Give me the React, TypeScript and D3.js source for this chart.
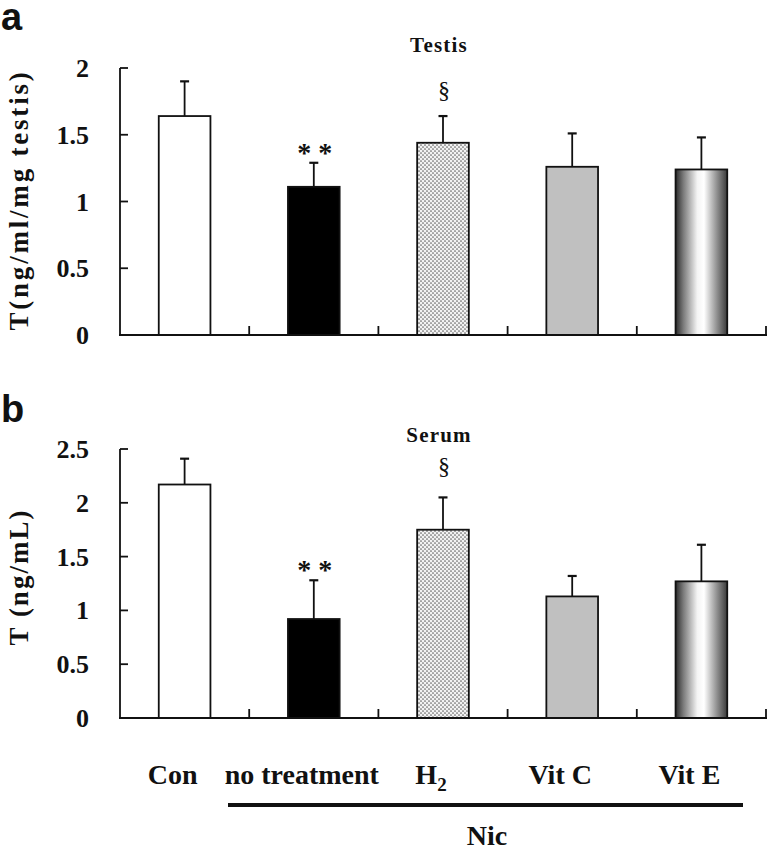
import * as React from 'react';
import { scaleBand, scaleLinear, range } from 'd3';

const categories = ['Con', 'no treatment', 'H2', 'Vit C', 'Vit E'];
const testisMean = [1.64, 1.11, 1.44, 1.26, 1.24];
const testisErr = [0.26, 0.18, 0.2, 0.25, 0.24];
const serumMean = [2.17, 0.92, 1.75, 1.13, 1.27];
const serumErr = [0.24, 0.36, 0.3, 0.19, 0.34];
const testisTicks = [0, 0.5, 1, 1.5, 2];
const serumTicks = [0, 0.5, 1, 1.5, 2, 2.5];
// significance marks above bars
const testisMarks = ['', '* *', '§', '', ''];
const serumMarks = ['', '* *', '§', '', ''];

const W = 767;
const H = 851;
const fills = ['#ffffff', '#000000', 'url(#dots)', '#c0c0c0', 'url(#cyl)'];
const serif = '"Liberation Serif", "Times New Roman", serif';
const sans = '"Liberation Sans", Arial, sans-serif';

const x = scaleBand<string>().domain(categories).range([120, 766]).paddingInner(0).paddingOuter(0);
const barW = x.bandwidth() * 0.4;

interface PanelProps {
  means: number[];
  errs: number[];
  ticks: number[];
  yMax: number;
  y0: number;
  yTop: number;
  marks: string[];
  markY: number[];
  title: string;
  titleY: number;
  yLabel: string;
  yLabelX: number;
  yLabelY: number;
  yLabelSpacing: number;
}

function Panel(p: PanelProps) {
  const y = scaleLinear().domain([0, p.yMax]).range([p.y0, p.yTop]);
  return (
    <g>
      {/* bars */}
      {categories.map((c, i) => {
        const cx = x(c)! + x.bandwidth() / 2;
        return (
          <g key={c}>
            <line x1={cx} x2={cx} y1={y(p.means[i])} y2={y(p.means[i] + p.errs[i])} stroke="#111" strokeWidth={1.8} />
            <line x1={cx - 4.5} x2={cx + 4.5} y1={y(p.means[i] + p.errs[i])} y2={y(p.means[i] + p.errs[i])} stroke="#111" strokeWidth={2.2} />
            <rect x={cx - barW / 2} y={y(p.means[i])} width={barW} height={p.y0 - y(p.means[i])}
              fill={fills[i]} stroke="#111" strokeWidth={1.8} />
            {p.marks[i] && (
              <text x={cx + 1} y={p.markY[i]} textAnchor="middle" fontFamily={serif}
                fontWeight={p.marks[i] === '§' ? 'normal' : 'bold'}
                fontSize={p.marks[i] === '§' ? 24 : 28} fill="#111">{p.marks[i]}</text>
            )}
          </g>
        );
      })}
      {/* y axis */}
      <line x1={120} x2={120} y1={p.yTop} y2={p.y0} stroke="#111" strokeWidth={1.8} />
      {p.ticks.map(t => (
        <g key={t}>
          <line x1={120} x2={128} y1={y(t)} y2={y(t)} stroke="#111" strokeWidth={1.8} />
          <text x={89} y={y(t) + 9} textAnchor="end" fontFamily={serif} fontWeight="bold" fontSize={26} fill="#111">{t}</text>
        </g>
      ))}
      {/* x axis */}
      <line x1={119} x2={767} y1={p.y0} y2={p.y0} stroke="#111" strokeWidth={2} />
      {range(1, categories.length + 1).map(k => {
        const bx = 120 + k * x.bandwidth();
        return <line key={k} x1={bx} x2={bx} y1={p.y0} y2={p.y0 - 9} stroke="#111" strokeWidth={1.8} />;
      })}
      <text x={439} y={p.titleY} textAnchor="middle" fontFamily={serif} fontWeight="bold" fontSize={21} letterSpacing={1.2} fill="#111">{p.title}</text>
      <text transform={`translate(${p.yLabelX},${p.yLabelY}) rotate(-90)`} textAnchor="middle" fontFamily={serif}
        fontWeight="bold" fontSize={27} letterSpacing={p.yLabelSpacing} fill="#111">{p.yLabel}</text>
    </g>
  );
}

export default function App() {
  return (
    <svg width={W} height={H} viewBox={`0 0 ${W} ${H}`} style={{ position: 'absolute', left: 0, top: 0, background: '#fff' }}>
      <defs>
        <pattern id="dots" width={4} height={4} patternUnits="userSpaceOnUse">
          <rect width={4} height={4} fill="#f2f2f2" />
          <circle cx={1} cy={1} r={0.85} fill="#666" />
          <circle cx={3} cy={3} r={0.85} fill="#666" />
        </pattern>
        <linearGradient id="cyl" x1="0" x2="1" y1="0" y2="0">
          <stop offset="0" stopColor="#2a2a2a" />
          <stop offset="0.15" stopColor="#7a7a7a" />
          <stop offset="0.42" stopColor="#f4f4f4" />
          <stop offset="0.55" stopColor="#ffffff" />
          <stop offset="0.8" stopColor="#909090" />
          <stop offset="1" stopColor="#3a3a3a" />
        </linearGradient>
      </defs>
      <rect width={W} height={H} fill="#fff" />
      <text x={1} y={30} fontFamily={sans} fontWeight="bold" fontSize={38} fill="#111">a</text>
      <text x={1} y={422} fontFamily={sans} fontWeight="bold" fontSize={38} fill="#111">b</text>
      <Panel means={testisMean} errs={testisErr} ticks={testisTicks} yMax={2} y0={335} yTop={68}
        marks={testisMarks} markY={[0, 162, 98, 0, 0]} title="Testis" titleY={52}
        yLabel="T(ng/ml/mg testis)" yLabelX={28} yLabelY={200} yLabelSpacing={2.8} />
      <Panel means={serumMean} errs={serumErr} ticks={serumTicks} yMax={2.5} y0={718} yTop={449}
        marks={serumMarks} markY={[0, 579, 474, 0, 0]} title="Serum" titleY={442}
        yLabel="T (ng/mL)" yLabelX={28} yLabelY={577} yLabelSpacing={2} />
      {/* category labels */}
      {categories.map(c => {
        const cx = x(c)! + x.bandwidth() / 2 - 12;
        return (
          <text key={c} x={cx} y={784} textAnchor="middle" fontFamily={serif} fontWeight="bold" fontSize={28} fill="#111">
            {c === 'H2' ? <>H<tspan fontSize={19} dy={7}>2</tspan></> : c}
          </text>
        );
      })}
      <line x1={228} x2={743} y1={805} y2={805} stroke="#111" strokeWidth={4} />
      <text x={487} y={845} textAnchor="middle" fontFamily={serif} fontWeight="bold" fontSize={28} fill="#111">Nic</text>
    </svg>
  );
}
